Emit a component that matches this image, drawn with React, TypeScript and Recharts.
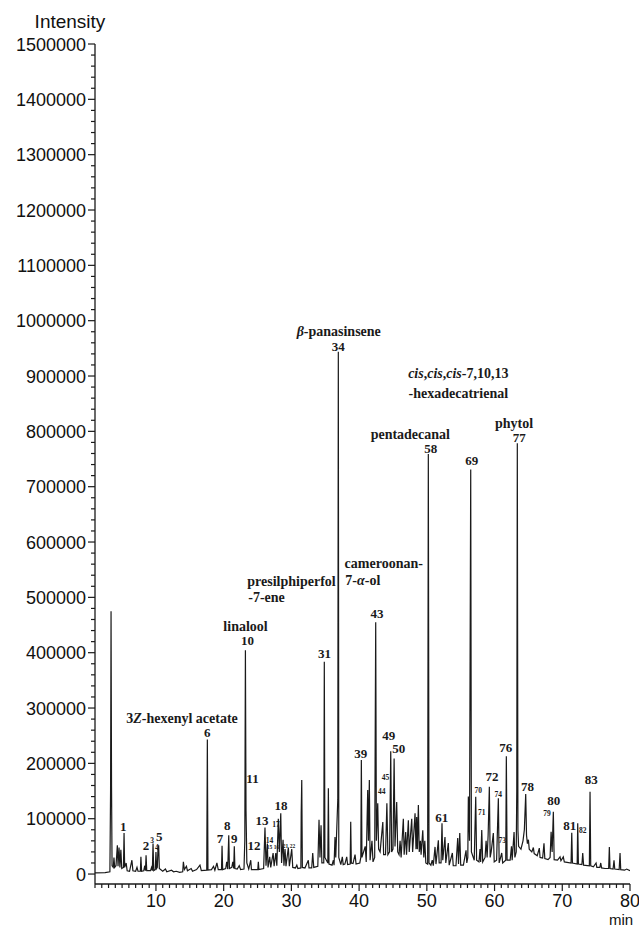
import React from 'react';
import { ComposedChart, Line, Scatter, XAxis, YAxis } from 'recharts';

// retention time (min), intensity, valley / apex points
const trace: [number, number][] = [
  [1.0, 2000], [2.5, 2500], [3.2, 4000], [3.3, 150000], [3.37, 475000], [3.44, 160000], [3.52, 15000],
  [3.7, 12000], [3.8, 30000], [3.9, 12000], [4.1, 15000], [4.3, 52000], [4.4, 14000], [4.55, 48000],
  [4.68, 12000], [4.82, 44000], [4.95, 10000], [5.2, 12000], [5.29, 74000], [5.38, 12000], [5.6, 20000],
  [5.75, 6000], [6.1, 5000], [6.45, 25000], [6.6, 6000], [7.0, 5000], [7.2, 12000], [7.35, 5000],
  [7.7, 5000], [7.78, 31000], [7.88, 5000], [8.2, 6000], [8.35, 15000], [8.45, 6000], [8.54, 34000],
  [8.64, 6000], [9.2, 6000], [9.35, 12000], [9.47, 6000], [9.57, 55000], [9.67, 6000], [9.9, 8000],
  [10.0, 40000], [10.1, 10000], [10.2, 12000], [10.3, 45000], [10.4, 52000], [10.5, 10000], [11.0, 5000],
  [11.4, 9000], [11.6, 4000], [12.3, 7000], [12.6, 4000], [13.0, 5000], [13.5, 3000], [13.95, 4000],
  [14.05, 22000], [14.2, 8000], [14.5, 14000], [14.65, 6000], [15.2, 10000], [15.4, 5000], [16.0, 8000],
  [16.5, 16000], [16.7, 6000], [17.5, 7000], [17.59, 243000], [17.68, 7000], [18.2, 8000], [18.5, 14000],
  [18.7, 7000], [19.0, 20000], [19.2, 8000], [19.68, 8000], [19.76, 51000], [19.85, 8000], [20.3, 10000],
  [20.45, 22000], [20.6, 9000], [20.75, 70000], [20.85, 10000], [21.2, 12000], [21.35, 22000],
  [21.48, 10000], [21.57, 50000], [21.66, 10000], [22.0, 9000], [22.3, 15000], [22.5, 8000], [23.0, 9000],
  [23.12, 60000], [23.21, 404500], [23.3, 115000], [23.42, 20000], [23.7, 9000], [24.0, 25000],
  [24.1, 8000], [25.04, 8000], [25.12, 22000], [25.2, 8000], [25.9, 10000], [26.1, 84000], [26.25, 15000],
  [26.45, 55000], [26.55, 12000], [26.8, 31000], [26.95, 12000], [27.3, 38000], [27.45, 14000],
  [27.7, 38000], [27.85, 15000], [28.07, 100000], [28.22, 40000], [28.43, 110000], [28.55, 20000],
  [28.77, 62000], [28.9, 15000], [29.06, 45000], [29.2, 14000], [29.55, 48000], [29.7, 14000],
  [30.05, 45000], [30.2, 12000], [30.6, 11000], [30.8, 16000], [30.95, 10000], [31.4, 11000],
  [31.45, 110000], [31.53, 170000], [31.62, 12000], [32.0, 11000], [32.5, 25000], [32.6, 11000],
  [33.0, 11000], [33.15, 38000], [33.3, 12000], [33.9, 14000], [34.08, 98000], [34.22, 30000],
  [34.38, 88000], [34.5, 20000], [34.78, 20000], [34.86, 383700], [34.95, 30000], [35.38, 20000],
  [35.46, 155000], [35.55, 18000], [36.0, 16000], [36.2, 25000], [36.3, 16000], [36.44, 67000],
  [36.55, 30000], [36.85, 134000], [36.93, 944000], [37.0, 30000], [37.3, 17000], [37.52, 31000],
  [37.65, 17000], [37.9, 18000], [38.17, 31000], [38.3, 17000], [38.68, 18000], [38.76, 94500],
  [38.85, 20000], [39.1, 19000], [39.4, 35000], [39.55, 18000], [40.1, 20000], [40.25, 30000],
  [40.33, 206000], [40.42, 30000], [40.9, 50000], [41.05, 22000], [41.27, 151800], [41.38, 60000],
  [41.51, 170000], [41.62, 25000], [41.9, 60000], [42.05, 22000], [42.3, 30000], [42.45, 455000],
  [42.55, 60000], [42.75, 128000], [42.88, 45000], [43.1, 40000], [43.5, 94000], [43.62, 35000],
  [43.9, 35000], [44.1, 128000], [44.25, 35000], [44.5, 40000], [44.67, 222000], [44.8, 40000],
  [45.0, 45000], [45.17, 209000], [45.3, 50000], [45.55, 130000], [45.7, 40000], [45.9, 35000],
  [46.05, 60000], [46.2, 30000], [46.53, 100000], [46.65, 35000], [46.88, 76000], [47.0, 35000],
  [47.27, 97000], [47.4, 40000], [47.77, 100000], [47.9, 40000], [48.26, 110000], [48.4, 45000],
  [48.5, 103000], [48.6, 45000], [48.75, 124600], [48.88, 40000], [49.05, 60000], [49.15, 35000],
  [49.4, 79000], [49.55, 30000], [49.7, 60000], [49.85, 20000], [50.12, 18000], [50.22, 759000],
  [50.32, 20000], [50.6, 16000], [50.8, 25000], [50.95, 15000], [51.21, 49000], [51.35, 18000],
  [51.7, 61000], [51.82, 20000], [52.1, 20000], [52.24, 91600], [52.35, 25000], [52.68, 67000],
  [52.8, 20000], [53.17, 56000], [53.3, 16000], [53.77, 38000], [53.9, 15000], [54.3, 15000],
  [54.56, 65000], [54.68, 18000], [54.86, 74000], [55.0, 16000], [55.4, 16000], [55.79, 43000],
  [55.9, 20000], [56.05, 30000], [56.13, 140000], [56.3, 60000], [56.48, 731000], [56.58, 40000],
  [57.0, 25000], [57.22, 139700], [57.35, 25000], [57.7, 22000], [57.85, 45000], [57.95, 22000],
  [58.11, 79500], [58.25, 22000], [58.6, 30000], [58.75, 60000], [58.9, 30000], [59.05, 70000],
  [59.23, 157800], [59.35, 30000], [59.5, 40000], [59.82, 74000], [59.95, 22000], [60.3, 25000],
  [60.56, 136800], [60.68, 20000], [61.06, 38000], [61.2, 20000], [61.65, 25000], [61.74, 213000],
  [61.85, 25000], [62.3, 25000], [62.5, 50000], [62.6, 25000], [62.88, 76000], [63.0, 30000],
  [63.2, 40000], [63.28, 150000], [63.36, 778400], [63.45, 80000], [63.55, 50000], [63.9, 45000],
  [64.2, 60000], [64.4, 80000], [64.6, 144600], [64.72, 70000], [64.85, 55000], [65.0, 62000],
  [65.12, 45000], [65.5, 40000], [65.73, 48000], [65.85, 37000], [66.3, 33000], [66.61, 47000],
  [66.72, 30000], [67.1, 29000], [67.3, 55500], [67.42, 28000], [67.9, 26000], [68.2, 30000],
  [68.35, 76500], [68.5, 40000], [68.68, 112600], [68.8, 26000], [69.3, 25000], [69.67, 31000],
  [69.8, 24000], [70.15, 31000], [70.3, 22000], [71.3, 20000], [71.4, 74700], [71.5, 20000],
  [72.2, 18000], [72.28, 91600], [72.38, 18000], [72.9, 17000], [73.02, 38000], [73.15, 16000],
  [74.0, 15000], [74.1, 148700], [74.2, 15000], [74.6, 13000], [74.99, 20000], [75.1, 12000],
  [75.55, 12000], [75.68, 20000], [75.8, 11000], [76.3, 10000], [76.85, 10000], [76.95, 49000],
  [77.05, 10000], [77.5, 9000], [77.64, 25000], [77.75, 9000], [78.4, 8000], [78.53, 38000],
  [78.63, 8000], [79.2, 7000], [79.5, 9000], [80.0, 6000],
];

// peak numbers: text, retention time, intensity at the label baseline
const peakNumbers: [string, number, number][] = [
  ['1', 5.18, 77700], ['2', 8.54, 43300], ['5', 10.5, 59600], ['6', 17.59, 247400],
  ['7', 19.46, 56000], ['8', 20.54, 79500], ['9', 21.57, 56000], ['10', 23.52, 413600],
  ['11', 24.26, 164300], ['12', 24.48, 43300], ['13', 25.66, 88500], ['18', 28.47, 115600],
  ['31', 34.89, 390100], ['34', 36.93, 946000], ['39', 40.24, 209500], ['43', 42.65, 462300],
  ['49', 44.39, 242000], ['50', 45.85, 218500], ['58', 50.58, 760900], ['61', 52.2, 94500],
  ['69', 56.63, 738700], ['72', 59.63, 168500], ['76', 61.65, 220900], ['77', 63.66, 780700],
  ['78', 64.87, 150400], ['80', 68.74, 124600], ['81', 71.1, 79500], ['83', 74.28, 162500],
];

const minorPeakNumbers: [string, number, number][] = [
  ['3', 9.42, 56000], ['4', 10.12, 43300], ['14', 26.77, 56000], ['17', 27.73, 85400],
  ['44', 43.34, 144500], ['45', 43.9, 169800], ['70', 57.6, 146800], ['71', 58.1, 106600],
  ['74', 60.56, 139100], ['73', 61.15, 56000], ['79', 67.75, 104700], ['82', 73.04, 74000],
];

const tinyPeakNumbers: [string, number, number][] = [
  ['15 16', 27.29, 45000], ['21 22', 29.65, 47000],
];

// compound names (*...* = italic)
const compoundNames: [string, number, number][] = [
  ['3*Z*-hexenyl acetate', 13.85, 272700],
  ['linalool', 23.23, 440000],
  ['presilphiperfol', 30.02, 521000],
  ['-7-ene', 26.33, 492000],
  ['*β*-panasinsene', 36.99, 972000],
  ['cameroonan-', 43.64, 552600],
  ['7-*α*-ol', 40.55, 521900],
  ['pentadecanal', 47.56, 785600],
  ['*cis*,*cis*,*cis*-7,10,13', 54.65, 895800],
  ['-hexadecatrienal', 54.65, 859700],
  ['phytol', 62.88, 805500],
];

const xTicks = Array.from({ length: 80 }, (_, i) => i + 1);
const yTicks = Array.from({ length: 76 }, (_, i) => i * 20000);

const traceData = trace.map(([t, v]) => ({ t, v }));
const toLabels = (rows: [string, number, number][]) => rows.map(([text, t, v]) => ({ text, t, v }));

const SANS = '"Liberation Sans", Arial, sans-serif';
const SERIF = '"Liberation Serif", "Times New Roman", serif';
const INK = '#1a1a1a';

const renderRich = (text: string) =>
  text.split('*').map((part, i) => (
    <tspan key={i} fontStyle={i % 2 === 1 ? 'italic' : 'normal'}>{part}</tspan>
  ));

const labelShape = (size: number) => (props: any) => {
  const { cx, cy, payload } = props;
  return (
    <text x={cx} y={cy} textAnchor="middle" fontFamily={SERIF} fontWeight="bold" fontSize={size} fill={INK}>
      {renderRich(payload.text)}
    </text>
  );
};

const XTick = (props: any) => {
  const { x, y, payload } = props;
  const major = payload.value % 10 === 0;
  return (
    <g>
      <line x1={x} y1={y} x2={x} y2={y + (major ? 7 : 4)} stroke={INK} strokeWidth={1.2} />
      {major && (
        <text x={x} y={y + 23} textAnchor="middle" fontFamily={SANS} fontSize={18} fill="#111">
          {payload.value}
        </text>
      )}
    </g>
  );
};

const YTick = (props: any) => {
  const { x, y, payload } = props;
  const major = payload.value % 100000 === 0;
  return (
    <g>
      <line x1={x} y1={y} x2={x - (major ? 7 : 4)} y2={y} stroke={INK} strokeWidth={1.2} />
      {major && (
        <text x={x - 9} y={y + 6.5} textAnchor="end" fontFamily={SANS} fontSize={18} fill="#111">
          {payload.value}
        </text>
      )}
    </g>
  );
};

export default function App() {
  return (
    <div style={{ position: 'absolute', left: 0, top: 0, width: 639, height: 928, background: '#fff' }}>
      <ComposedChart width={639} height={928} data={traceData} margin={{ top: 44, right: 9, bottom: 4, left: 5 }}>
        <XAxis
          dataKey="t"
          type="number"
          domain={[1, 80]}
          allowDataOverflow
          ticks={xTicks}
          interval={0}
          tick={<XTick />}
          tickLine={false}
          tickSize={0}
          tickMargin={0}
          height={40}
          axisLine={{ stroke: INK, strokeWidth: 1.3 }}
        />
        <XAxis xAxisId="top" orientation="top" type="number" domain={[1, 80]} height={0} tick={false} tickLine={false} axisLine={{ stroke: INK, strokeWidth: 1.4 }} />
        <YAxis
          type="number"
          domain={[-18000, 1500000]}
          allowDataOverflow
          ticks={yTicks}
          interval={0}
          tick={<YTick />}
          tickLine={false}
          tickSize={0}
          tickMargin={0}
          width={90}
          axisLine={{ stroke: INK, strokeWidth: 1.3 }}
        />
        <YAxis yAxisId="right" orientation="right" domain={[0, 1]} width={0} tick={false} tickLine={false} axisLine={{ stroke: INK, strokeWidth: 1.3 }} />
        <Line dataKey="v" type="linear" stroke={INK} strokeWidth={1.2} dot={false} isAnimationActive={false} />
        <Scatter data={toLabels(peakNumbers)} dataKey="v" shape={labelShape(13)} isAnimationActive={false} />
        <Scatter data={toLabels(minorPeakNumbers)} dataKey="v" shape={labelShape(7.5)} isAnimationActive={false} />
        <Scatter data={toLabels(tinyPeakNumbers)} dataKey="v" shape={labelShape(5.5)} isAnimationActive={false} />
        <Scatter data={toLabels(compoundNames)} dataKey="v" shape={labelShape(14)} isAnimationActive={false} />
      </ComposedChart>
      <svg width={639} height={928} style={{ position: 'absolute', left: 0, top: 0, pointerEvents: 'none' }}>
        <text x={70} y={28} textAnchor="middle" fontFamily={SANS} fontSize={19} fill="#111">Intensity</text>
        <text x={621} y={924.5} textAnchor="middle" fontFamily={SANS} fontSize={15} fill="#111">min</text>
      </svg>
    </div>
  );
}
